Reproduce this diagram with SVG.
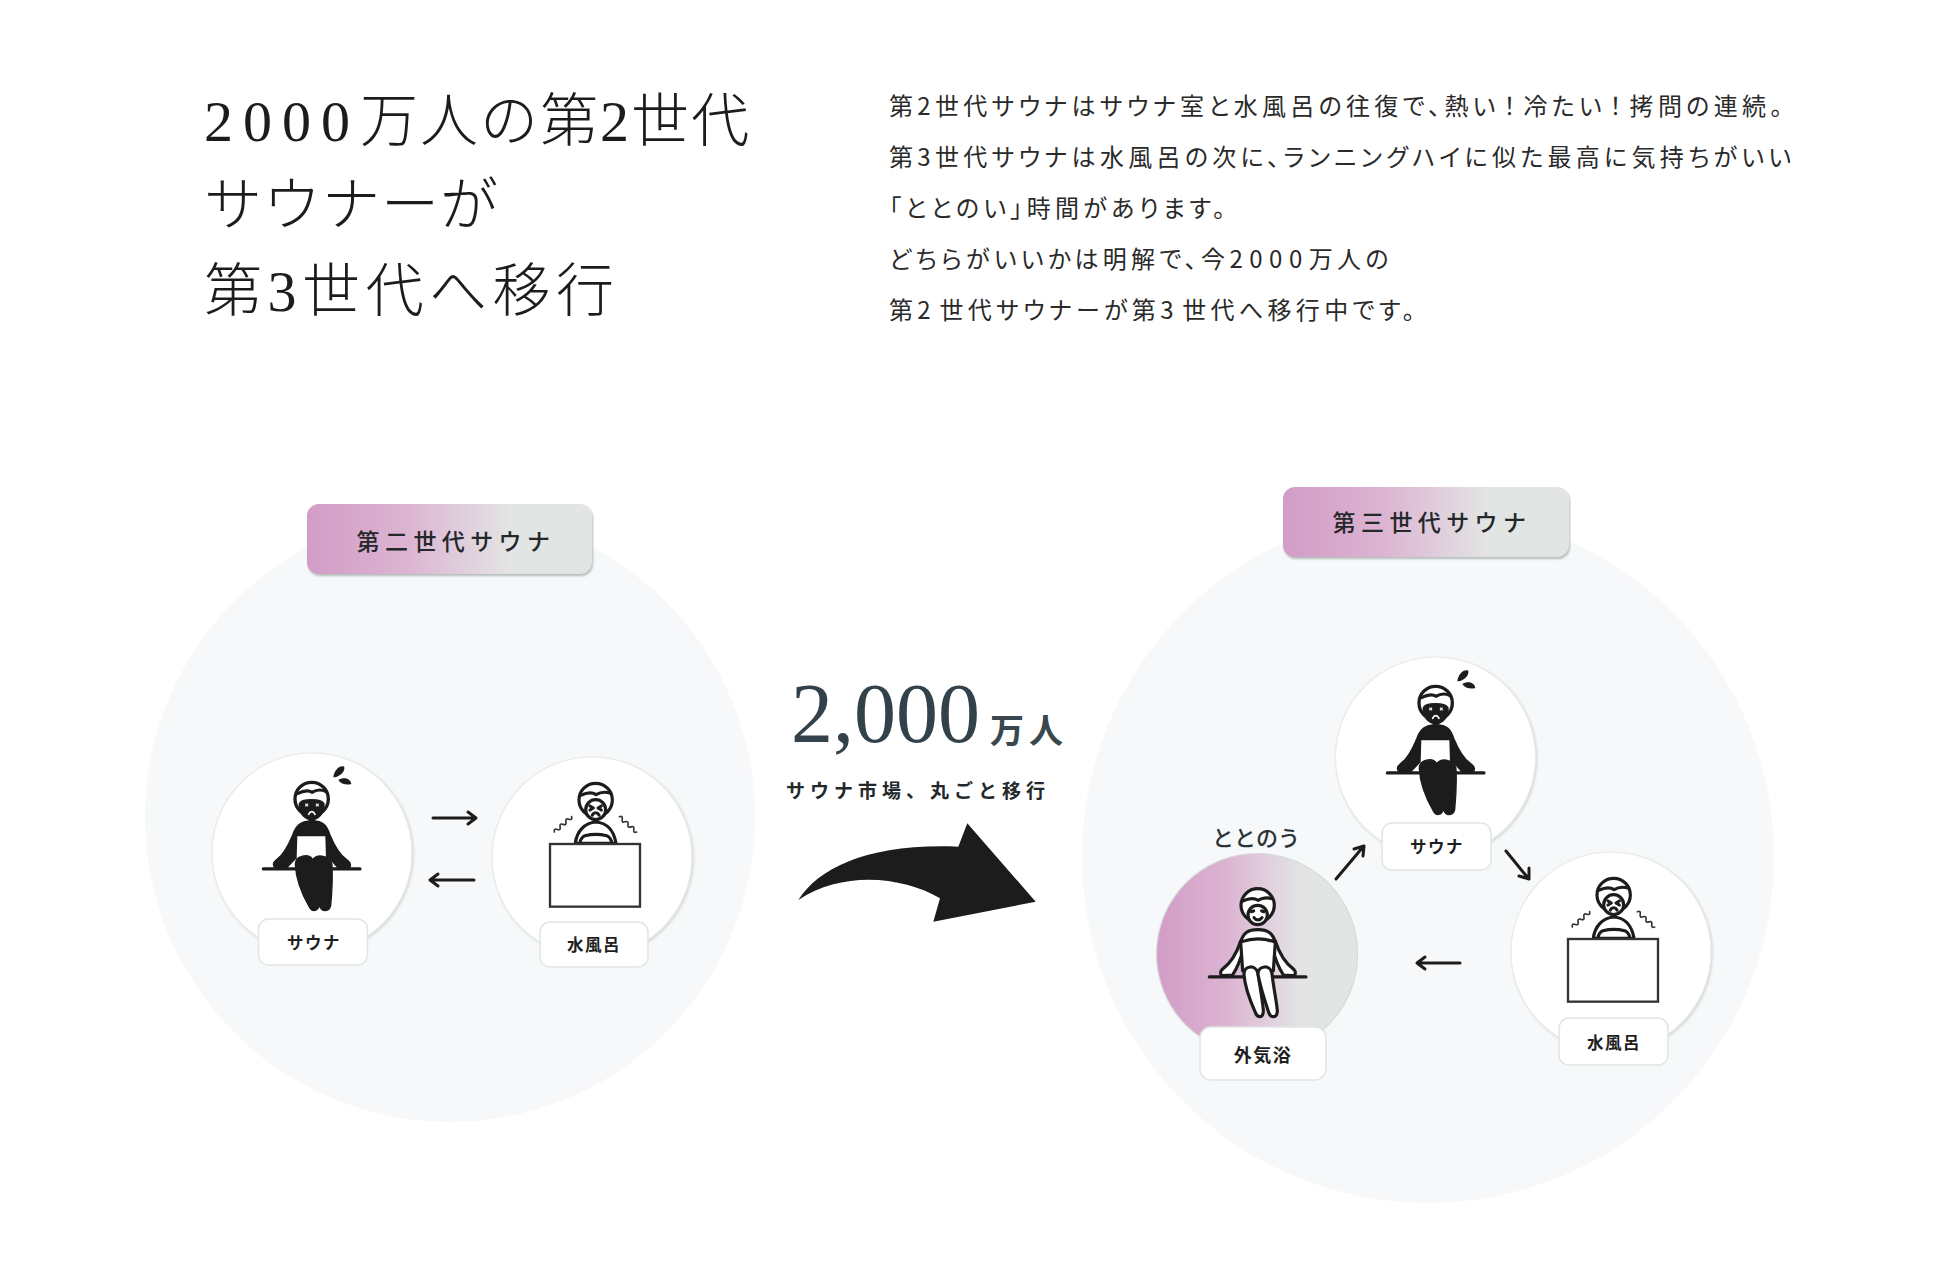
<svg xmlns="http://www.w3.org/2000/svg" width="1950" height="1271" viewBox="0 0 1950 1271">
<style>
text{font-family:"Noto Sans CJK JP","Liberation Sans",sans-serif;fill:#222}
.title{font-family:"Liberation Serif","Noto Sans CJK JP",serif;font-size:58px;font-weight:300;fill:#1c1c1c}
.body{font-size:24px;font-weight:400;letter-spacing:4.3px;font-feature-settings:"palt";fill:#2a2a2a}
.pilltext{font-size:23px;font-weight:500;letter-spacing:5.4px;text-anchor:middle;fill:#24282a}
.lab{font-size:16.500px;font-weight:700;letter-spacing:1.5px;text-anchor:middle;fill:#1e1e1e}
.big{fill:#f6f8f9}
.small{fill:#fff;stroke:#e8ebeb;stroke-width:1.2;filter:url(#soft)}
.labbox{fill:#fff;stroke:#dfe6e5;stroke-width:1.5}
.conn{fill:none;stroke:#1c1c1c;stroke-width:3;stroke-linecap:round;stroke-linejoin:round}
.ol{fill:#fff;stroke:#1c1c1c;stroke-width:9.500;stroke-linejoin:round;stroke-linecap:round}
.ln{fill:none;stroke:#1c1c1c;stroke-width:9.500;stroke-linecap:round;stroke-linejoin:round}
.k{fill:#1c1c1c;stroke:#1c1c1c;stroke-width:4;stroke-linejoin:round}
.w{fill:none;stroke:#fff;stroke-width:5;stroke-linecap:round}
.thin{fill:none;stroke:#333;stroke-width:5;stroke-linecap:round;stroke-linejoin:round}
</style>
<defs>
<linearGradient id="grad" x1="0" y1="0" x2="1" y2="0">
<stop offset="0" stop-color="#d29cc6"/><stop offset=".35" stop-color="#dcb4d2"/><stop offset=".72" stop-color="#e3e5e5"/><stop offset="1" stop-color="#e3e5e5"/>
</linearGradient>
<filter id="sh" x="-5%" y="-10%" width="110%" height="125%"><feDropShadow dx="1" dy="2" stdDeviation="1" flood-color="#b4bcbc"/></filter>
<filter id="soft" x="-5%" y="-5%" width="110%" height="110%"><feDropShadow dx="1.200" dy="1.200" stdDeviation="1" flood-color="#d3d8d8"/></filter>
<g id="drops">
<path d="M283 80C270 74 252 90 250 112C262 112 286 100 283 80Z"/>
<path d="M265 120C280 110 302 115 304 132C290 136 272 132 265 120Z"/>
</g>
<g id="fig-hot" transform="translate(-68 -106.7) scale(.3333)">
<path class="k" d="M204 176C170 176 156 188 146 218C132 252 118 278 98 292C84 302 86 316 100 318L310 318C324 314 322 302 308 292C288 278 272 252 258 218C248 188 238 176 204 176Z"/>
<path d="M130 317L158 288L160 317ZM254 288L280 317L254 317Z" fill="#fff"/>
<path d="M160 222L244 222L246 288L230 282L208 292L188 282L158 288Z" fill="#fff"/>
<path class="k" d="M154 306C154 280 194 272 206 292C222 272 262 282 264 308C266 350 262 410 260 430C256 450 232 450 226 428C222 448 204 450 196 434C176 400 156 350 154 306Z"/>
<path class="ln" d="M58 320H348"/>
<circle cx="203" cy="110" r="50" fill="#fff" stroke="#1c1c1c" stroke-width="10"/>
<path class="k" d="M166 124C172 108 232 108 240 124C242 150 226 172 203 172C180 172 164 150 166 124Z"/>
<path class="ln" stroke-width="6" d="M160 94C180 84 195 84 204 90C214 84 230 80 246 88"/>
<path d="M194 168H214V182H194Z" fill="#1c1c1c"/>
<path d="M184 124L192 132M192 124L184 132M216 124L224 132M224 124L216 132" stroke="#e8e8e8" stroke-width="4"/>
<path class="w" d="M194 156C199 145 208 145 213 156"/>
</g>
<g id="fig-happy" transform="translate(-68 -106.7) scale(.3333)">
<path class="ol" d="M152 212C140 250 120 280 96 298C88 306 92 316 100 316L128 314C140 295 152 270 158 240Z"/>
<path class="ol" d="M256 212C268 250 288 280 312 298C320 306 316 316 308 316L280 314C268 295 256 270 250 240Z"/>
<path class="ol" d="M204 178C172 178 160 188 152 215L158 302L250 302L256 215C248 190 236 178 204 178Z"/>
<path class="ln" d="M156 214C185 204 222 204 252 214"/>
<path class="ln" d="M58 320H348"/>
<path class="ol" d="M162 312C162 284 198 282 204 310C210 350 220 405 220 424C218 444 202 444 196 426C180 390 164 345 162 312Z"/>
<path class="ol" d="M204 312C204 284 242 282 246 310C250 350 262 405 262 424C260 444 242 444 236 426C224 390 210 345 204 312Z"/>
<circle cx="203" cy="105" r="50" class="ol"/>
<circle cx="203" cy="134" r="29" class="ol"/>
<path class="ln" stroke-width="6.500" d="M158 92C180 82 195 84 204 90C214 84 230 80 248 86"/>
<path class="ln" stroke-width="5" d="M184 124L191 122M215 122L222 124"/>
<path class="ln" stroke-width="5" d="M192 142C198 151 210 151 216 142"/>
</g>
<g id="fig-cold" transform="scale(.3333) translate(-195 -222)">
<path class="ol" d="M136 220C140 184 165 158 197 156C232 158 252 184 258 220Z"/>
<path class="ln" stroke-width="7" d="M150 218C152 204 158 200 165 197C185 192 210 192 230 197C240 202 244 208 245 218"/>
<circle cx="197" cy="90" r="50" class="ol"/>
<circle cx="197" cy="119" r="30" class="ol"/>
<path class="ln" stroke-width="6.500" d="M152 76C174 66 189 68 198 74C208 68 224 64 242 70"/>
<path class="ln" stroke-width="4" d="M180 108L190 114L180 120M214 108L204 114L214 120M187 135C192 126 202 126 207 135"/>
<path class="thin" d="M73 186Q70.700 174.700 81.700 178.300Q92.600 182 90.300 170.700Q88 159.300 99 163Q110 166.700 107.700 155.300Q105.400 144 116.300 147.700Q127.300 151.300 125 140"/>
<path class="thin" d="M268 140Q278.900 136.300 276.700 147.700Q274.400 159 285.300 155.300Q296.300 151.700 294 163Q291.700 174.300 302.700 170.700Q313.600 167 311.300 178.300Q309 189.700 320 186"/>
<rect x="60" y="222" width="270" height="188" fill="#fff" stroke="#333" stroke-width="7"/>
</g>
</defs>

<rect width="1950" height="1271" fill="#fff"/>

<g id="heading">
<text class="title" x="204" y="141"><tspan letter-spacing="10">2000</tspan><tspan letter-spacing="2">万人の第2世代</tspan></text>
<text class="title" x="204" y="225" letter-spacing="1">サウナーが</text>
<text class="title" x="204" y="311" letter-spacing="5.500">第3世代へ移行</text>
</g>
<g id="description">
<text class="body" x="889" y="115">第2世代サウナはサウナ室と水風呂の往復で、熱<tspan letter-spacing="8">い！</tspan>冷た<tspan letter-spacing="8">い！</tspan>拷問の連続。</text>
<text class="body" x="889" y="166">第3世代サウナは水風呂の次に、ランニングハイに似た最高に気持ちがいい</text>
<text class="body" x="889" y="217">「ととのい」時間があります。</text>
<text class="body" x="889" y="268">どちらがいいかは明解で、今<tspan letter-spacing="6.500">2000</tspan>万人の</text>
<text class="body" x="889" y="319">第<tspan letter-spacing="8.800">2</tspan>世代サウナーが第<tspan letter-spacing="8.800">3</tspan>世代へ移行中です。</text>
</g>

<g id="gen2">
<circle class="big" cx="450" cy="817" r="305"/>
<rect x="307" y="504" width="285" height="70" rx="12" fill="url(#grad)" filter="url(#sh)"/>
<text class="pilltext" x="456" y="550">第二世代サウナ</text>
</g>
<g id="gen3">
<circle class="big" cx="1428" cy="857" r="346"/>
<rect x="1283" y="487" width="286" height="70" rx="12" fill="url(#grad)" filter="url(#sh)"/>
<text class="pilltext" x="1432" y="531">第三世代サウナ</text>
</g>

<g id="sauna-left">
<circle class="small" cx="312" cy="853" r="100"/>
<use href="#fig-hot" transform="translate(312 869)"/>
<use href="#drops" fill="#1c1c1c" transform="translate(250 740) scale(.3333)"/>
<rect class="labbox" x="258.500" y="919" width="109" height="46" rx="10"/>
<text class="lab" x="314" y="949">サウナ</text>
</g>
<g id="bath-left">
<circle class="small" cx="592" cy="857" r="100"/>
<use href="#fig-cold" transform="translate(595 844)"/>
<rect class="labbox" x="540" y="922" width="108" height="45" rx="10"/>
<text class="lab" x="594" y="951">水風呂</text>
</g>
<g id="sauna-right">
<circle class="small" cx="1435.500" cy="757" r="100"/>
<use href="#fig-hot" transform="translate(1436 773)"/>
<use href="#drops" fill="#1c1c1c" transform="translate(1374 644) scale(.3333)"/>
<rect class="labbox" x="1382" y="823" width="109" height="47" rx="10"/>
<text class="lab" x="1437" y="853">サウナ</text>
</g>
<g id="bath-right">
<circle class="small" cx="1611" cy="952" r="100"/>
<use href="#fig-cold" transform="translate(1613 939)"/>
<rect class="labbox" x="1559" y="1018" width="109" height="47" rx="10"/>
<text class="lab" x="1614" y="1049">水風呂</text>
</g>
<g id="outdoor-rest">
<text x="1256" y="846" font-size="22" font-weight="500" text-anchor="middle" style="fill:#2c3336">ととのう</text>
<circle cx="1257" cy="954" r="100.500" fill="url(#grad)" stroke="#d5d9d9" stroke-width="1.200"/>
<use href="#fig-happy" transform="translate(1258 977)"/>
<rect class="labbox" x="1200" y="1027" width="126" height="53" rx="11"/>
<text class="lab" x="1263" y="1062" style="font-size:18px">外気浴</text>
</g>

<g id="connectors">
<path class="conn" d="M433 818H475M468 812L476 818L468 824"/>
<path class="conn" d="M474 880H431M438 874L430 880L438 886"/>
<path class="conn" d="M1336 879L1363 847M1354 849L1364 846L1363 856"/>
<path class="conn" d="M1506 851L1528 878M1529 868L1529 879L1519 876"/>
<path class="conn" d="M1460 963H1418M1425 957L1417 963L1425 969"/>
</g>

<g id="migration">
<text x="791" y="742" font-size="84" style="font-family:'Liberation Serif',serif;fill:#33424a">2,000</text>
<text x="990" y="743" font-size="34" font-weight="700" letter-spacing="5" style="fill:#3a474e">万人</text>
<text x="786" y="798" font-size="19" font-weight="700" letter-spacing="5" style="fill:#23282a">サウナ市場、丸ごと移行</text>
<path fill="#1c1c1c" d="M798.300 900C820 866.700 870 843.300 958.300 846.700L967.300 823.300L1035.700 901.700L933.300 921.700L940 898.300C903.300 876.700 843.300 870 798.300 900Z"/>
</g>
</svg>
